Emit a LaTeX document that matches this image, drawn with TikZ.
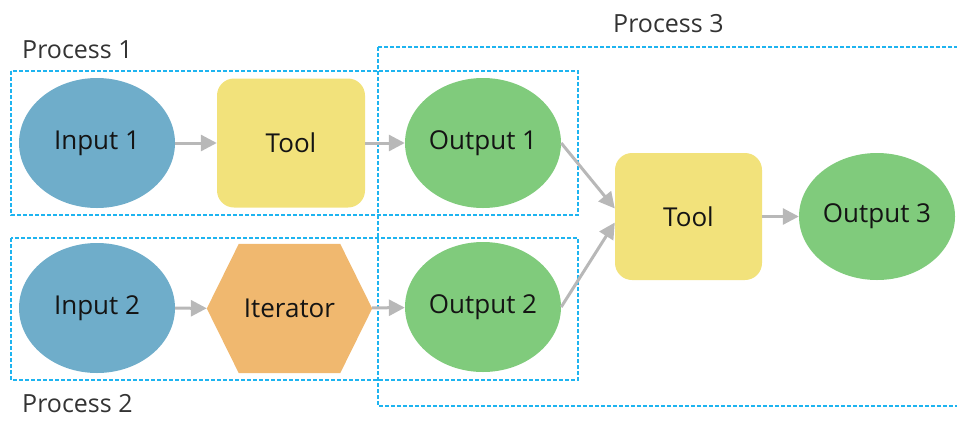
\documentclass[tikz,border=0pt]{standalone}
\usepackage{fontspec}
\setmainfont{Open Sans}
\usetikzlibrary{arrows.meta,calc,shapes.geometric}
\definecolor{cblue}{HTML}{6FADCA}
\definecolor{cyellow}{HTML}{F2E27B}
\definecolor{cgreen}{HTML}{80CB7C}
\definecolor{corange}{HTML}{F0B86F}
\definecolor{cdash}{HTML}{1EB4F0}
\definecolor{carrow}{HTML}{B8B8B8}
\pgfdeclarelayer{bg}
\pgfsetlayers{bg,main}
\begin{document}
\begin{tikzpicture}[x=1pt,y=-1pt,
  lbl/.style={font=\fontsize{26}{30}\selectfont, text=black!92},
  ell/.style={ellipse, minimum width=156pt, minimum height=130pt, inner sep=0pt, lbl},
  toolbox/.style={rectangle, rounded corners=17pt, fill=cyellow, minimum width=148pt, minimum height=129pt, inner sep=0pt, lbl},
  hexbox/.style={rectangle, minimum width=165pt, minimum height=129pt, inner sep=0pt, lbl},
  plabel/.style={anchor=base west, inner sep=0pt, font=\fontsize{25}{30}\selectfont, text=black!80},
  procbox/.style={draw=cdash, line width=1.6pt, dash pattern=on 4pt off 2pt},
  conn/.style={draw=carrow, line width=3pt, -{Triangle[length=16pt,width=16pt]}}]
\useasboundingbox (0,0) rectangle (957,421);
\clip (0,0) rectangle (957,421);
% process boxes
\draw[procbox] (11,71) rectangle (578,215);
\draw[procbox] (11,238) rectangle (578,380);
\draw[procbox] (378,47) rectangle (975,406);
% labels
\node[plabel] (p1) at (22,58) {Process 1};
\node[plabel] (p2) at (22,412) {Process 2};
\node[plabel] (p3) at (613,32) {Process 3};
% nodes
\node[ell, fill=cblue] (in1) at (97,143) {Input 1};
\node[toolbox] (t1) at (291,143) {Tool};
\node[ell, fill=cgreen] (out1) at (483,143) {Output 1};
\node[ell, fill=cblue] (in2) at (97,308) {Input 2};
\node[hexbox] (it) at (289.5,308.5) {Iterator};
\begin{pgfonlayer}{bg}
\fill[corange] (it.west) -- ($(it.north west)+(32,0)$) -- ($(it.north east)+(-32,0)$) -- (it.east) -- ($(it.south east)+(-32,0)$) -- ($(it.south west)+(32,0)$) -- cycle;
\end{pgfonlayer}
\node[ell, fill=cgreen] (out2) at (483,307) {Output 2};
\node[toolbox, minimum width=147pt, minimum height=127pt] (t2) at (688.5,216.5) {Tool};
\node[ell, fill=cgreen, minimum height=127pt] (out3) at (877,216.5) {Output 3};
% connectors
\draw[conn] (in1) -- (t1);
\draw[conn] (t1) -- (out1);
\draw[conn] (in2) -- (it);
\draw[conn] (it) -- (out2);
\draw[conn] (out1.east) -- ([yshift=8pt]t2.west);
\draw[conn] (out2.east) -- ([yshift=-6pt]t2.west);
\draw[conn] (t2) -- (out3);
\end{tikzpicture}
\end{document}
